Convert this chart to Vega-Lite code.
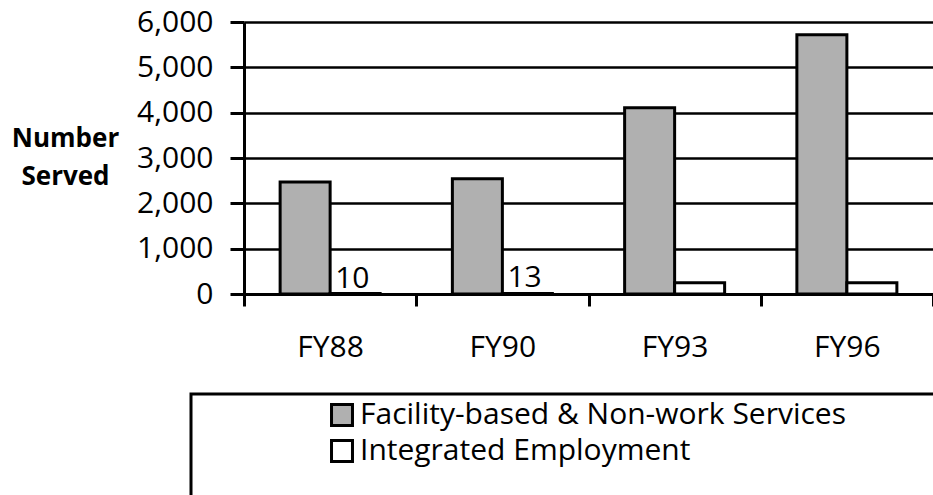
{
  "$schema": "https://vega.github.io/schema/vega-lite/v6.json",
  "width": 689,
  "height": 272,
  "autosize": {"type": "none"},
  "padding": {"left": 244, "top": 22, "right": 0, "bottom": 201},
  "background": "white",
  "config": {
    "font": "Open Sans",
    "view": {"stroke": null},
    "axis": {"domainColor": "black", "tickColor": "black", "labelColor": "black", "titleColor": "black", "gridColor": "black"},
    "legend": {"strokeWidth": 3}
  },
  "data": {
    "values": [
      {"year": "FY88", "series": "Facility-based & Non-work Services", "value": 2470},
      {"year": "FY88", "series": "Integrated Employment", "value": 10},
      {"year": "FY90", "series": "Facility-based & Non-work Services", "value": 2540},
      {"year": "FY90", "series": "Integrated Employment", "value": 13},
      {"year": "FY93", "series": "Facility-based & Non-work Services", "value": 4110},
      {"year": "FY93", "series": "Integrated Employment", "value": 250},
      {"year": "FY96", "series": "Facility-based & Non-work Services", "value": 5720},
      {"year": "FY96", "series": "Integrated Employment", "value": 250}
    ]
  },
  "encoding": {
    "x": {
      "field": "year", "type": "nominal", "sort": null,
      "scale": {"paddingInner": 0, "paddingOuter": 0},
      "axis": {
        "title": null, "labelAngle": 0, "labelFontSize": 30, "labelPadding": 26,
        "tickBand": "extent", "tickSize": 12, "tickWidth": 3, "domainWidth": 3
      }
    },
    "xOffset": {
      "field": "series", "type": "nominal",
      "sort": ["Facility-based & Non-work Services", "Integrated Employment"],
      "scale": {"paddingInner": 0, "paddingOuter": 0.7225}
    },
    "y": {
      "field": "value", "type": "quantitative",
      "scale": {"domain": [0, 6000], "nice": false},
      "axis": {
        "values": [0, 1000, 2000, 3000, 4000, 5000, 6000],
        "format": ",.0f",
        "labelFontSize": 30, "labelPadding": 17,
        "tickSize": 14, "tickWidth": 3, "domainWidth": 3,
        "grid": true, "gridWidth": 2.5,
        "title": ["Number", "Served"],
        "titleFontSize": 26, "titleFontWeight": "bold",
        "titleAngle": 0, "titleAlign": "center", "titleBaseline": "middle",
        "titleX": -179, "titleY": 116, "titleLineHeight": 38
      }
    }
  },
  "layer": [
    {
      "mark": {"type": "bar", "stroke": "black", "strokeWidth": 3},
      "encoding": {
        "fill": {
          "field": "series", "type": "nominal",
          "scale": {"domain": ["Facility-based & Non-work Services", "Integrated Employment"], "range": ["#b0b0b0", "white"]},
          "legend": {
            "orient": "none", "legendX": -53, "legendY": 372, "direction": "vertical",
            "strokeColor": "black", "padding": 6,
            "symbolType": "square", "symbolSize": 440, "symbolStrokeColor": "black", "symbolStrokeWidth": 3,
            "symbolOffset": 130,
            "labelFontSize": 30, "labelColor": "black", "labelOffset": 3, "labelLimit": 0,
            "rowPadding": 2,
            "title": ["I", "I"],
            "titleOrient": "right", "titleAnchor": "start", "titleBaseline": "top",
            "titleFontSize": 6, "titleLineHeight": 85.5, "titleColor": "rgba(0,0,0,0)", "titlePadding": 84
          }
        }
      }
    },
    {
      "transform": [{"filter": "datum.value < 20"}],
      "mark": {"type": "text", "align": "left", "baseline": "alphabetic", "dx": -20, "dy": -6, "fontSize": 30, "color": "black"},
      "encoding": {
        "text": {"field": "value", "type": "quantitative"}
      }
    }
  ]
}
